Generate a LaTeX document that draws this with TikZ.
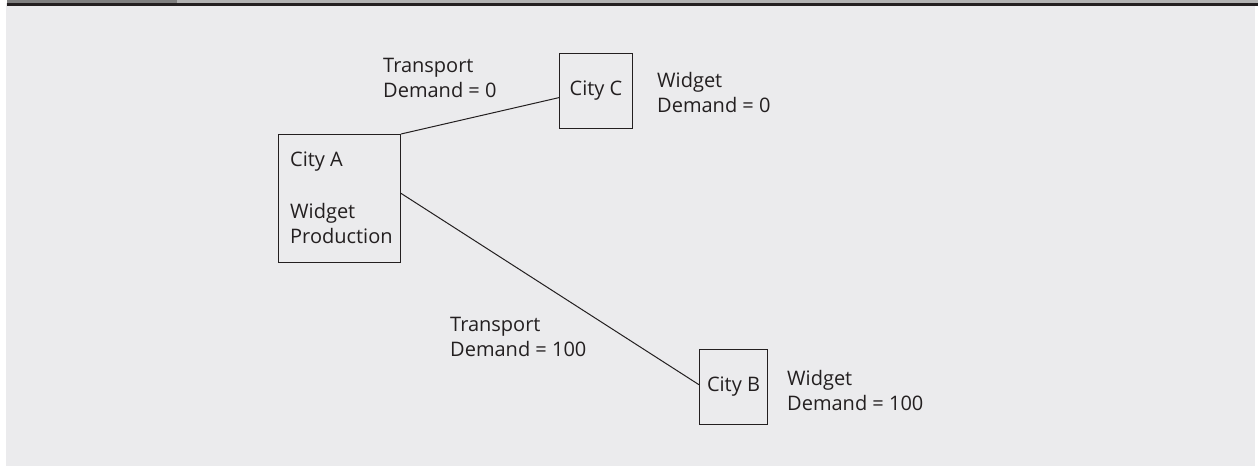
\documentclass[tikz,border=0pt]{standalone}
\usepackage{fontspec}
\setmainfont{Open Sans}
\usetikzlibrary{calc}
\definecolor{ink}{HTML}{231F20}
\definecolor{panel}{HTML}{EBEBED}
\definecolor{tabdark}{HTML}{7F7F7F}
\definecolor{tablight}{HTML}{B2B2B2}
\begin{document}
\begin{tikzpicture}[x=1pt,y=-1pt,
  txt/.style={inner sep=0pt,anchor=base west,align=left,text=ink,
    font=\fontsize{20}{25}\selectfont},
  city/.style={draw=ink,line width=1pt,inner sep=0pt,text=ink,
    font=\fontsize{20}{25}\selectfont},
  link/.style={draw=ink,line width=1pt}]
% frame and background
\useasboundingbox (0,0) rectangle (1258,467);
\fill[panel] (6,3) rectangle (1255,466);
\fill[tabdark] (7,0) rectangle (177,3);
\fill[tablight] (177,0) rectangle (1258,3);
\fill[ink] (7,3) rectangle (1258,6);
% cities
\node[city,minimum width=122pt,minimum height=128pt,anchor=north west] (a) at (278,134) {};
\node[city,minimum width=73pt,minimum height=75pt,anchor=north west] (c) at (559,53) {City C};
\node[city,minimum width=68pt,minimum height=75pt,anchor=north west] (b) at (699,349) {City B};
% text inside City A (anchored on the baseline of its last line)
\node[txt] (atext) at (290,243) {City A\\[27pt]Widget\\Production};
% connections
\draw[link] (a.north east) -- ($(c.north west)!0.587!(c.south west)$);
\draw[link] ($(a.north east)!0.46!(a.south east)$) -- ($(b.north west)!0.47!(b.south west)$);
% labels (anchored on the baseline of their last line)
\node[txt] (tc) at (383,97) {Transport\\Demand = 0};
\node[txt] (wc) at (657,112) {Widget\\Demand = 0};
\node[txt] (tb) at (450,356) {Transport\\Demand = 100};
\node[txt] (wb) at (787,410) {Widget\\Demand = 100};
\end{tikzpicture}
\end{document}
